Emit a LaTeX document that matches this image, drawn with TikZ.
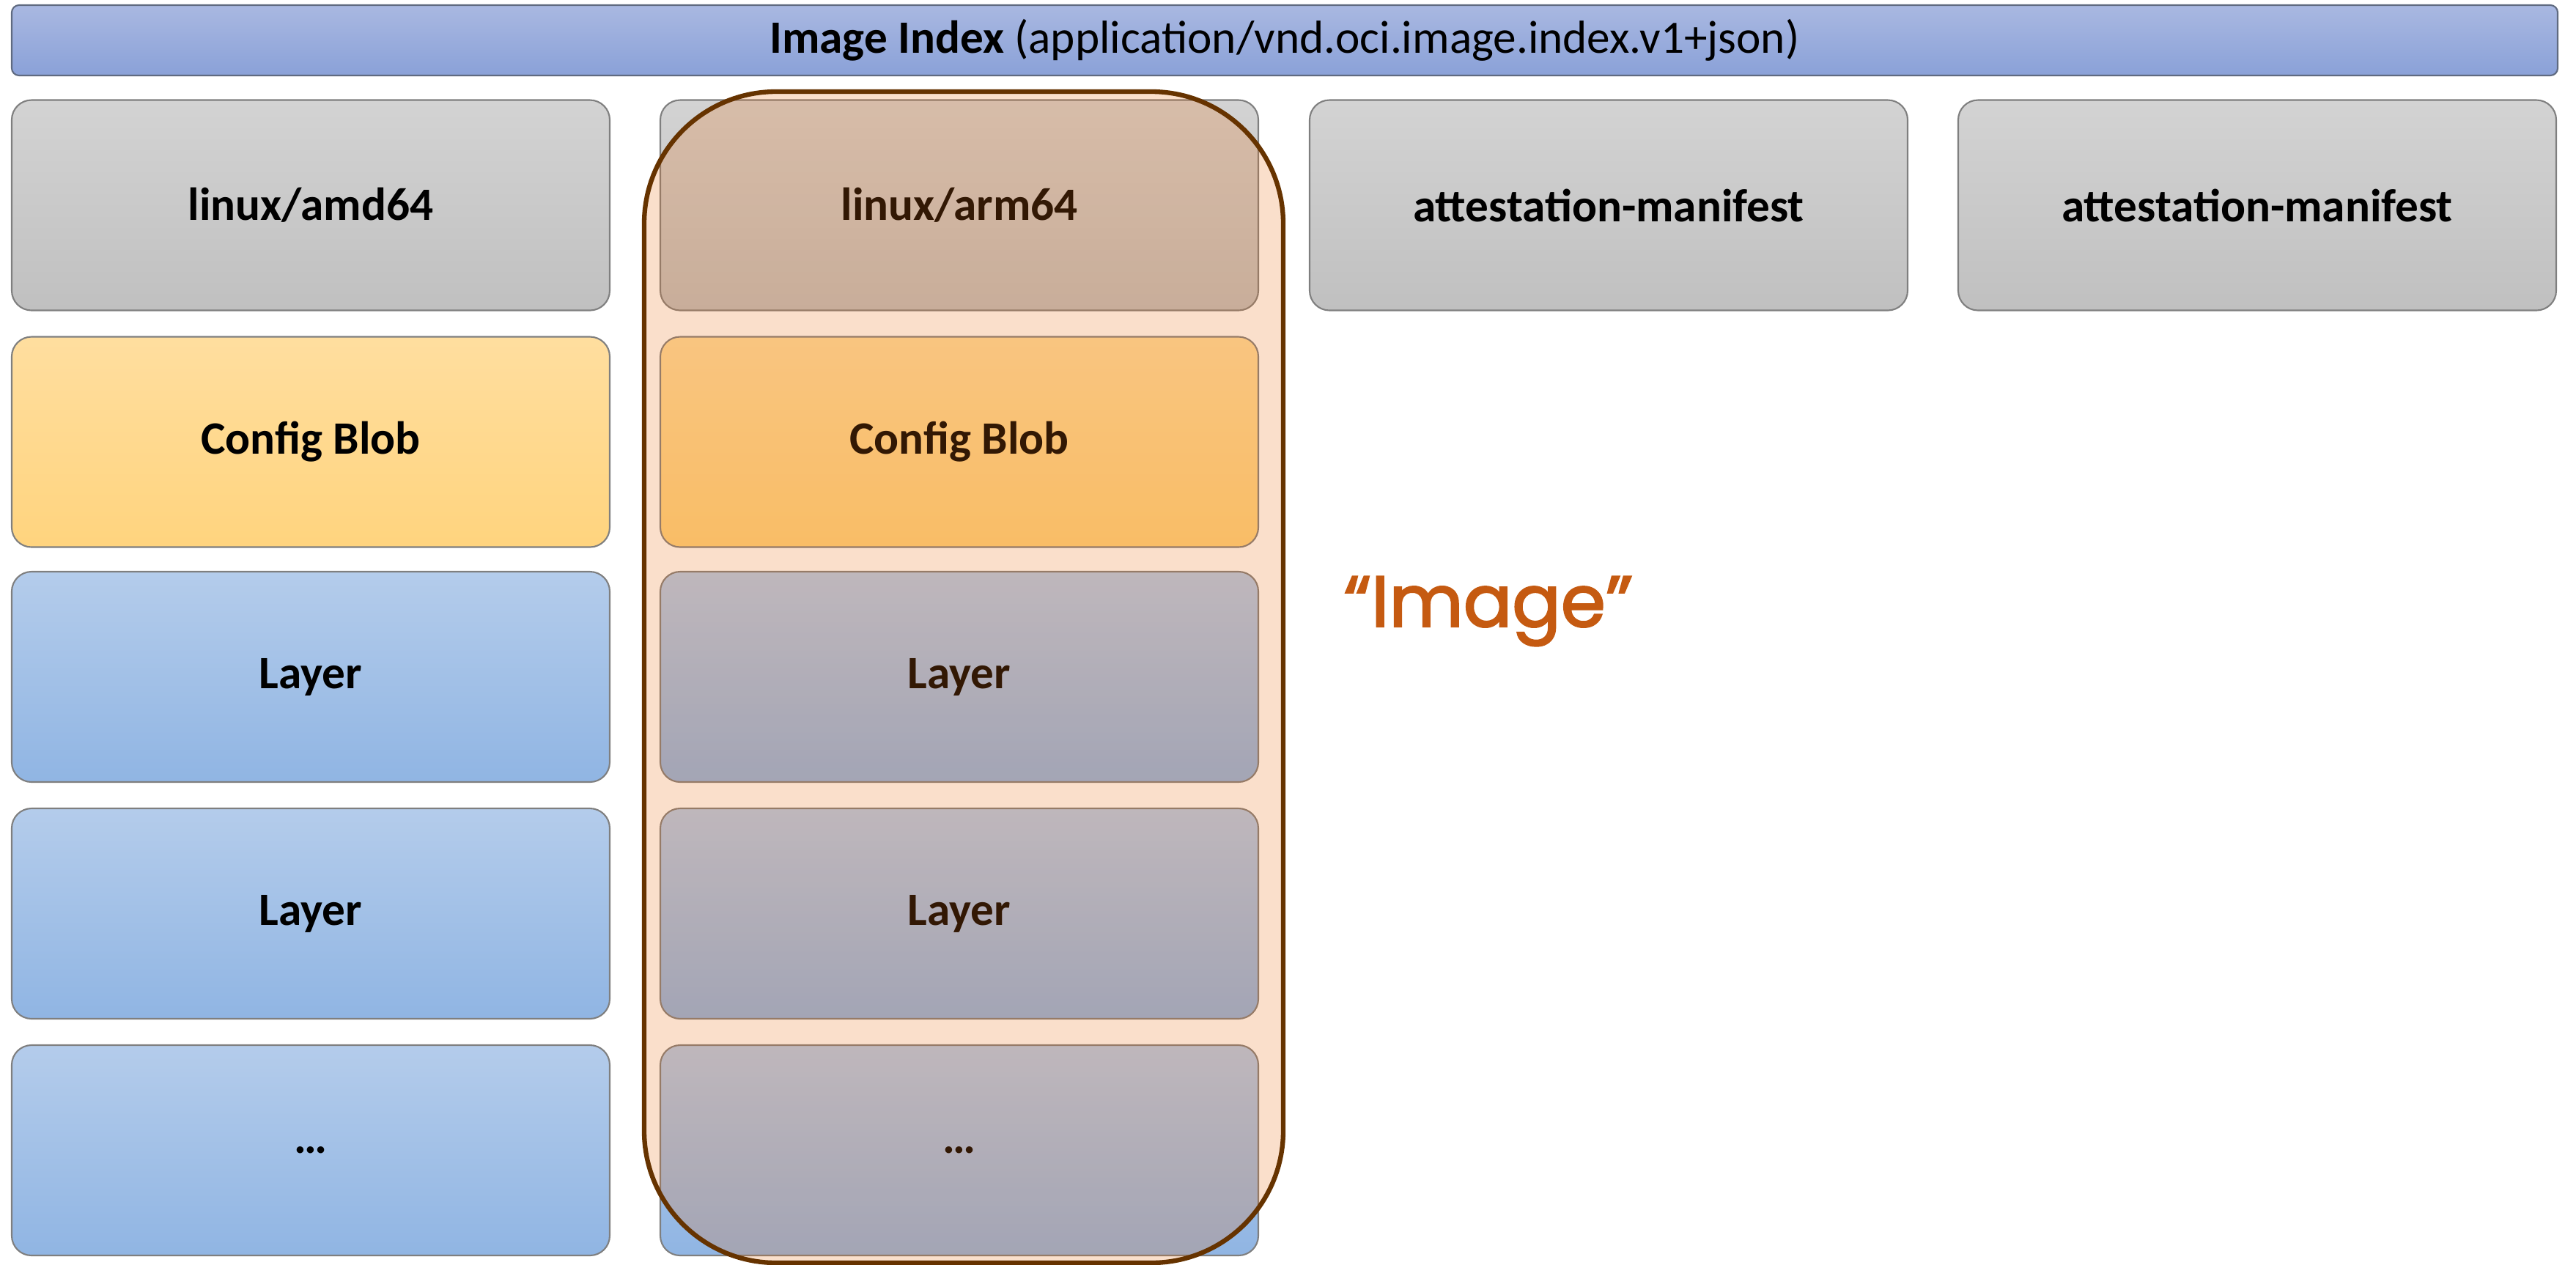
\documentclass[tikz,border=0pt]{standalone}
\usepackage{fontspec}
\setmainfont{Carlito}
\newfontfamily\popfont{Poppins}[FakeBold=2.2]

\definecolor{boxline}{HTML}{7F7F7F}
\definecolor{grayTop}{HTML}{D3D3D3}
\definecolor{grayBot}{HTML}{C0C0C0}
\definecolor{cfgTop}{HTML}{FFDE9F}
\definecolor{cfgBot}{HTML}{FFD47E}
\definecolor{layTop}{HTML}{B4CCEB}
\definecolor{layBot}{HTML}{90B5E3}
\definecolor{barTop}{HTML}{A9B8E1}
\definecolor{barBot}{HTML}{8AA1D8}
\definecolor{barLine}{HTML}{5F6A80}
\definecolor{imgFill}{HTML}{E86E14}
\definecolor{imgLine}{HTML}{663300}
\definecolor{imgText}{HTML}{C55A11}

\begin{document}
\begin{tikzpicture}[
  box/.style={rounded corners=0.27cm, draw=boxline, line width=0.6pt,
    minimum width=8.16cm, minimum height=2.87cm, inner sep=0pt,
    font=\fontsize{18}{22}\selectfont\bfseries},
  manifest/.style={box, top color=grayTop, bottom color=grayBot},
  config/.style={box, top color=cfgTop, bottom color=cfgBot},
  layer/.style={box, top color=layTop, bottom color=layBot},
  indexbar/.style={rounded corners=0.1cm, draw=barLine, line width=0.6pt,
    top color=barTop, bottom color=barBot,
    minimum width=34.74cm, minimum height=0.96cm, inner sep=0pt,
    font=\fontsize{18}{22}\selectfont},
  imagebox/.style={rounded corners=1.8cm, fill=imgFill, fill opacity=0.22,
    draw=imgLine, draw opacity=1, line width=1.8pt,
    minimum width=8.72cm, minimum height=15.98cm, inner sep=0pt}
]
\useasboundingbox (0,0) rectangle (35.15,-17.25);

% Index across the top
\node[indexbar] (index) at (17.53,-0.55)
  {\textbf{Image Index} (application/vnd.oci.image.index.v1+json)};

% Manifests
\node[manifest] (amd) at (4.24,-2.80) {linux/amd64};
\node[manifest] (arm) at (13.09,-2.80) {linux/arm64};
\node[manifest] (att1) at (21.95,-2.80) {attestation-manifest};
\node[manifest] (att2) at (30.80,-2.80) {attestation-manifest};

% Left column: amd64 blobs
\node[config] (cfgA) at (4.24,-6.03) {Config Blob};
\node[layer] (layA1) at (4.24,-9.235) {Layer};
\node[layer] (layA2) at (4.24,-12.465) {Layer};
\node[layer] (layA3) at (4.24,-15.695) {…};

% Second column: arm64 blobs
\node[config] (cfgB) at (13.09,-6.03) {Config Blob};
\node[layer] (layB1) at (13.09,-9.235) {Layer};
\node[layer] (layB2) at (13.09,-12.465) {Layer};
\node[layer] (layB3) at (13.09,-15.695) {…};

% The "image" highlight
\node[imagebox] (img) at (13.15,-9.24) {};
\node[font=\popfont\fontsize{28}{34}\selectfont, text=imgText] (imglabel)
  at (20.31,-8.34) {“Image”};
\end{tikzpicture}
\end{document}
